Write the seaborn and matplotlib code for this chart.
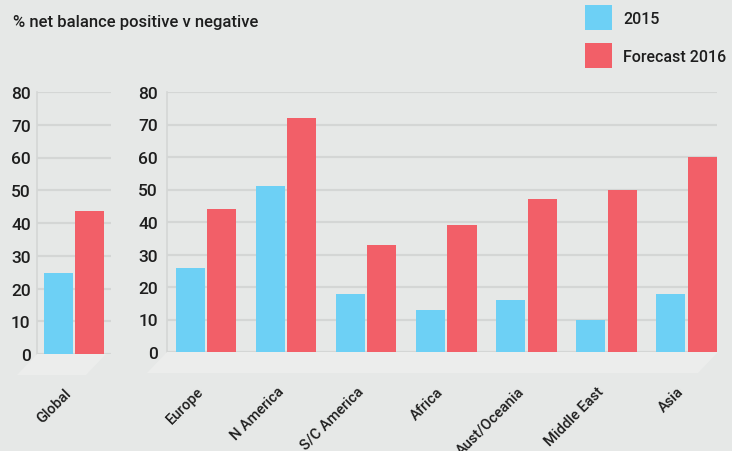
import numpy as np
import pandas as pd
import seaborn as sns
import matplotlib.pyplot as plt
from matplotlib.patches import Polygon

# values
series = ["2015", "Forecast 2016"]
global_2015 = [24.8]
global_2016 = [43.7]
regions = ["Europe", "N America", "S/C America", "Africa",
           "Aust/Oceania", "Middle East", "Asia"]
regions_2015 = [26, 51, 18, 13, 16, 10, 18]
regions_2016 = [44, 72, 33, 39, 47, 50, 60]
y_ticks = [0, 10, 20, 30, 40, 50, 60, 70, 80]

BG = "#E6E8E7"
FLOOR = "#ECEDEC"
GRID = "#D4D6D5"
COLORS = ["#6DD0F5", "#F25F68"]
TXT = "#1E1E1E"

sns.set_theme(style="white")
plt.rcParams["font.family"] = ["Roboto", "DejaVu Sans"]
plt.rcParams["font.weight"] = "medium"
plt.rcParams["text.color"] = TXT


def long_table(cats, a, b):
    df = pd.DataFrame({"cat": cats, series[0]: a, series[1]: b})
    return df.melt(id_vars="cat", var_name="series", value_name="value")


W, H = 732, 452
fig = plt.figure(figsize=(W / 100, H / 100), dpi=100, facecolor=BG)


def px_axes(x0, y_top, x1, y_bot):
    return fig.add_axes([x0 / W, 1 - y_bot / H, (x1 - x0) / W, (y_bot - y_top) / H])


ax_g = px_axes(37, 93, 111, 355)
ax_r = px_axes(167, 93, 717, 353)

# floor parallelograms under the bars
for (x0, x1, yb) in [(37, 106, 355), (167, 718, 353)]:
    dx, dy = 20, 21
    pts = [(x0, yb), (x1, yb), (x1 - dx, yb + dy), (x0 - dx, yb + dy)]
    pts = [(x / W, 1 - y / H) for x, y in pts]
    fig.patches.append(Polygon(pts, closed=True, transform=fig.transFigure,
                               facecolor=FLOOR, edgecolor="none", zorder=0))

sns.barplot(data=long_table(["Global"], global_2015, global_2016),
            x="cat", y="value", hue="series", hue_order=series,
            palette=COLORS, saturation=1, width=0.78, gap=0.07, linewidth=0,
            legend=False, ax=ax_g)
sns.barplot(data=long_table(regions, regions_2015, regions_2016),
            x="cat", y="value", hue="series", hue_order=series,
            palette=COLORS, saturation=1, width=0.78, gap=0.07, linewidth=0,
            ax=ax_r)

ax_g.set_xlim(-0.47, 0.46)
ax_r.set_xlim(-0.49, 6.38)

for ax, pad in [(ax_g, 4.5), (ax_r, 6.5)]:
    ax.set_facecolor(BG)
    ax.set_ylim(0, 80)
    ax.set_yticks(y_ticks)
    ax.set_xlabel("")
    ax.set_ylabel("")
    ax.grid(axis="y", color=GRID, linewidth=1.6)
    ax.set_axisbelow(True)
    for s in ["top", "right", "bottom"]:
        ax.spines[s].set_visible(False)
    ax.spines["left"].set_color(GRID)
    ax.spines["left"].set_linewidth(1.2)
    ax.tick_params(axis="y", length=0, pad=pad, labelsize=12.5, labelcolor=TXT)
    ax.tick_params(axis="x", length=0, pad=23, labelsize=10.5, labelcolor=TXT)
    for lab in ax.get_xticklabels():
        lab.set_rotation(45)
        lab.set_ha("right")

sns.move_legend(ax_r, "upper left", bbox_to_anchor=(585 / W, 1 - 6 / H),
                bbox_transform=fig.transFigure, frameon=False, title=None,
                fontsize=11.5, handlelength=1.7, handleheight=2.05,
                labelspacing=0.8, handletextpad=0.7, borderpad=0,
                borderaxespad=0)

fig.text(13 / W, 1 - 22 / H, "% net balance positive v negative",
         fontsize=12, va="center", ha="left", color=TXT)

fig.savefig("out.png", dpi=100, facecolor=BG)
